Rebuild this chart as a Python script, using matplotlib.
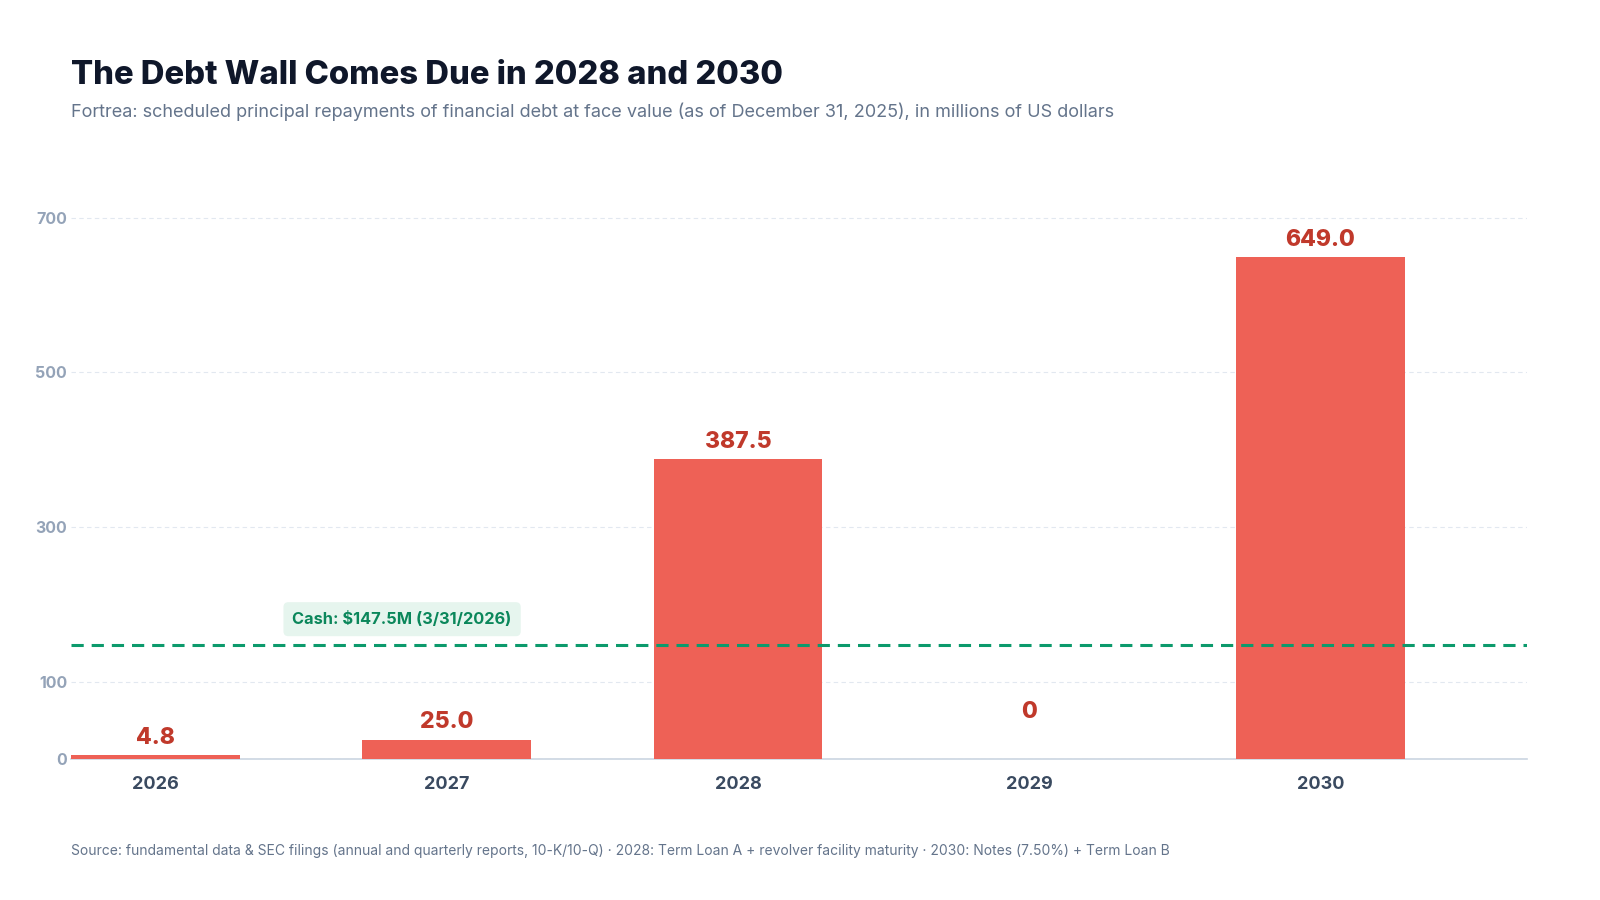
import numpy as np
import matplotlib
matplotlib.use('Agg')
import matplotlib.pyplot as plt

# scheduled principal repayments, millions USD
years = ['2026', '2027', '2028', '2029', '2030']
repayments = [4.8, 25.0, 387.5, 0.0, 649.0]
cash = 147.5
cash_label = 'Cash: $147.5M (3/31/2026)'
y_ticks = [0, 100, 300, 500, 700]

title = 'The Debt Wall Comes Due in 2028 and 2030'
subtitle = ('Fortrea: scheduled principal repayments of financial debt at face value '
            '(as of December 31, 2025), in millions of US dollars')
footer = ('Source: fundamental data & SEC filings (annual and quarterly reports, 10-K/10-Q) '
          '\u00b7 2028: Term Loan A + revolver facility maturity \u00b7 2030: Notes (7.50%) + Term Loan B')

plt.rcParams['font.family'] = ['Inter', 'DejaVu Sans']

fig = plt.figure(figsize=(16, 9), dpi=100)
ax = fig.add_axes([0.0446, 0.1567, 0.9098, 0.6188])

x = np.arange(len(years))
ax.bar(x, repayments, width=0.58, color='#ee6156', zorder=3)

for xi, v in zip(x, repayments):
    lbl = '0' if v == 0 else '%.1f' % v
    off = 34 if v == 0 else 12.5
    ax.annotate(lbl, (xi, v), xytext=(0, off), textcoords='offset points',
                ha='center', va='center', fontsize=16.5, fontweight='heavy',
                color='#c0392b', zorder=5)

# cash line
ax.axhline(cash, color='#0c9a6c', lw=2.2, dashes=(4, 2.6), zorder=4)
ax.annotate(cash_label, (0.846, cash), xytext=(0, 18.5), textcoords='offset points',
            ha='center', va='center', fontsize=11.8, fontweight='bold', color='#0b875b',
            bbox=dict(boxstyle='round,pad=0.55,rounding_size=0.3', fc='#e6f5ee', ec='none'),
            zorder=5)

ax.set_xlim(-0.29, 4.71)
ax.set_ylim(0, 720)
ax.set_xticks(x)
ax.set_xticklabels(years, fontsize=13, fontweight='bold', color='#3a4a60')
ax.set_yticks(y_ticks)
ax.set_yticklabels([str(t) for t in y_ticks], fontsize=11.5, fontweight='bold', color='#94a3b8')
ax.tick_params(axis='x', length=0, pad=12)
ax.tick_params(axis='y', length=0, pad=3)

ax.grid(axis='y', color='#e2e8f0', lw=0.8, dashes=(4, 3), zorder=0)
ax.set_axisbelow(True)
for s in ['top', 'right', 'left']:
    ax.spines[s].set_visible(False)
ax.spines['bottom'].set_color('#cbd5e1')
ax.spines['bottom'].set_linewidth(1.2)

fig.text(0.0446, 0.916, title, fontsize=23.6, fontweight='heavy', color='#0f172a', va='center')
fig.text(0.0446, 0.876, subtitle, fontsize=13.0, color='#64748b', va='center')
fig.text(0.0446, 0.0544, footer, fontsize=10, color='#64748b', va='center')

fig.savefig('out.png', dpi=100, facecolor='white')
